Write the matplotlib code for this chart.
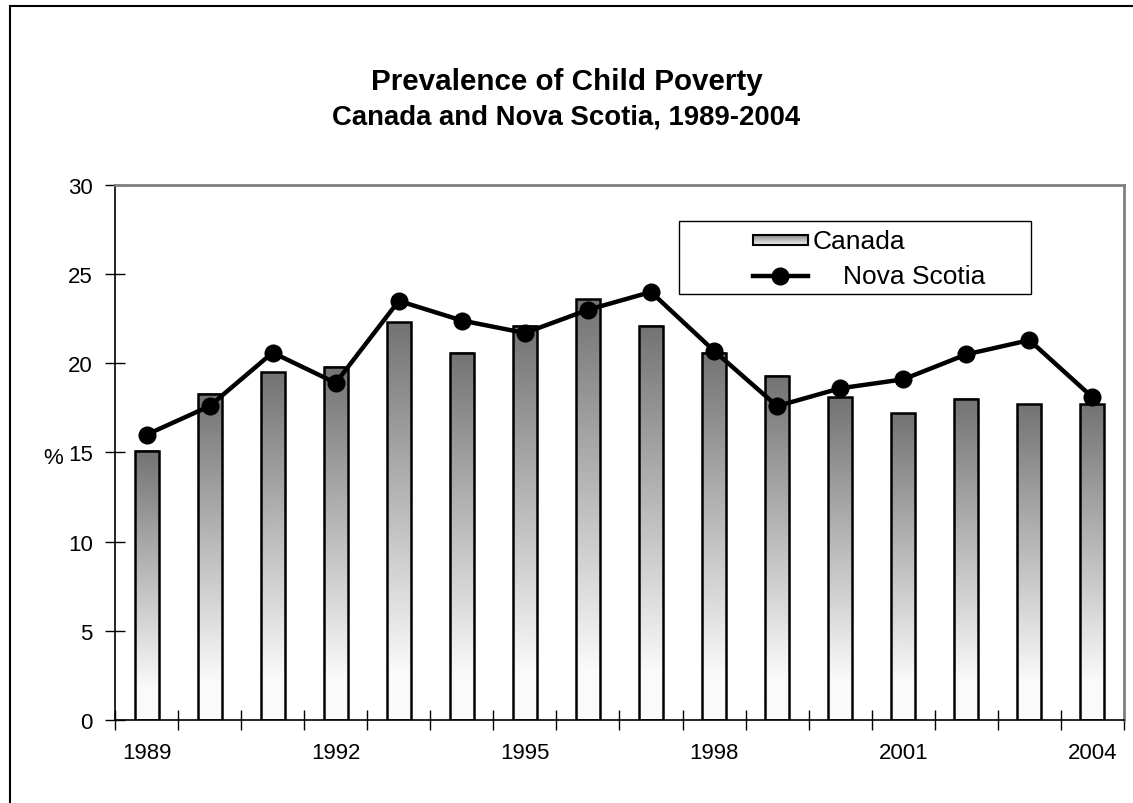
#! /usr/bin/env python3
import numpy as np
import matplotlib
matplotlib.use('Agg')
import matplotlib.pyplot as plt
from matplotlib.patches import Rectangle
from matplotlib.lines import Line2D

# data
#
years = [1989, 1990, 1991, 1992, 1993, 1994, 1995, 1996,
         1997, 1998, 1999, 2000, 2001, 2002, 2003, 2004]
canada = [15.1, 18.3, 19.5, 19.8, 22.3, 20.6, 22.1, 23.6,
          22.1, 20.6, 19.3, 18.1, 17.2, 18.0, 17.7, 17.7]
nova_scotia = [16.0, 17.6, 20.6, 18.9, 23.5, 22.4, 21.7, 23.0,
               24.0, 20.7, 17.6, 18.6, 19.1, 20.5, 21.3, 18.1]
year_labels = ['1989', '1992', '1995', '1998', '2001', '2004']

plt.rcParams['font.family'] = ['Liberation Sans', 'DejaVu Sans']

# gradient: dark grey at top -> white at bottom
grad = np.clip(np.linspace(0.45, 1.05, 256), 0, 0.98).reshape(-1, 1)
leg_grad = np.linspace(0.5, 0.95, 64).reshape(-1, 1)

fig = plt.figure(figsize=(11.33, 8.04), dpi=100)
ax = fig.add_axes([0.1015, 0.1032, 0.8905, 0.6655])

x = np.arange(len(years))
bar_w = 0.38
bars = ax.bar(x, canada, width=bar_w, facecolor='none', edgecolor='black',
              linewidth=1.8, zorder=3)
for b in bars:
    x0, y0 = b.get_x(), b.get_y()
    w, h = b.get_width(), b.get_height()
    ax.imshow(grad, cmap='gray', vmin=0, vmax=1, aspect='auto',
              extent=(x0, x0 + w, y0, y0 + h), origin='upper',
              interpolation='bilinear', zorder=2)

ax.plot(x, nova_scotia, color='black', linewidth=3.2, marker='o',
        markersize=12, zorder=4)

# spines
ax.spines['left'].set_color('black')
ax.spines['bottom'].set_color('black')
ax.spines['left'].set_linewidth(1.2)
ax.spines['bottom'].set_linewidth(1.2)
for s in ['top', 'right']:
    ax.spines[s].set_color('#808080')
    ax.spines[s].set_linewidth(2)

# ticks
ax.set_yticks(np.arange(0, 31, 5))
ax.tick_params(axis='y', direction='inout', length=14, width=1,
               labelsize=16, pad=9)
ax.set_xticks(np.arange(-0.5, len(years), 1))
ax.set_xticklabels([])
ax.tick_params(axis='x', which='major', direction='inout', length=14,
               width=1)
ax.set_xticks([years.index(int(y)) for y in year_labels], minor=True)
ax.set_xticklabels(year_labels, minor=True)
ax.tick_params(axis='x', which='minor', length=0, labelsize=16, pad=16)

ax.set_ylabel('%', rotation=0, fontsize=16, ha='center', va='center')
ax.yaxis.set_label_coords(-0.0615, 0.49)

# title
fig.text(0.5, 0.898, 'Prevalence of Child Poverty', ha='center',
         va='center', fontsize=21.3, fontweight='bold')
fig.text(0.5, 0.854, 'Canada and Nova Scotia, 1989-2004', ha='center',
         va='center', fontsize=19.8, fontweight='bold')

# legend (drawn by hand to mimic the original)
lx0, lx1, ly0, ly1 = 0.559, 0.908, 0.796, 0.933
ax.add_patch(Rectangle((lx0, ly0), lx1 - lx0, ly1 - ly0,
                       transform=ax.transAxes, facecolor='white',
                       edgecolor='black', linewidth=1, zorder=5))
ax.imshow(leg_grad, cmap='gray', vmin=0, vmax=1, aspect='auto',
          extent=(0.632, 0.687, 0.888, 0.907), transform=ax.transAxes,
          origin='upper', zorder=6)
ax.add_patch(Rectangle((0.632, 0.888), 0.055, 0.019,
                       transform=ax.transAxes, facecolor='none',
                       edgecolor='black', linewidth=1.5, zorder=7))
ax.text(0.691, 0.896, 'Canada', transform=ax.transAxes, fontsize=19,
        va='center', ha='left', zorder=7)
ax.add_line(Line2D([0.632, 0.6595, 0.687], [0.830, 0.830, 0.830],
                   transform=ax.transAxes, color='black', linewidth=3.2,
                   marker='o', markersize=12, markevery=[1], zorder=7))
ax.text(0.7215, 0.830, 'Nova Scotia', transform=ax.transAxes, fontsize=19,
        va='center', ha='left', zorder=7)

ax.set_xlim(-0.5, len(years) - 0.5)
ax.set_ylim(0, 30)

# outer border (right and bottom edges fall outside the image)
fig.patches.append(Rectangle((0.0085, -0.05), 1.2, 0.05 + 0.9913,
                             transform=fig.transFigure, fill=False,
                             edgecolor='black', linewidth=1.5))

fig.savefig('out.png', dpi=100)
